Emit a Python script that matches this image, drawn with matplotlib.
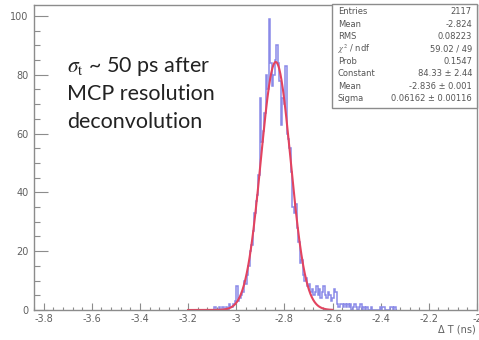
import matplotlib
matplotlib.use('Agg')
import matplotlib.pyplot as plt
import numpy as np
from matplotlib.patches import Rectangle
from matplotlib.ticker import MultipleLocator

# histogram binning (ROOT style, 300 bins) and bin contents
x_min, x_max, n_bins = -3.84, -2.0, 300
first_bin = 120
counts = [
    0, 0, 1, 0, 0, 1, 0, 1, 1, 0,
    1, 0, 2, 1, 1, 2, 3, 8, 3, 4,
    5, 6, 10, 9, 12, 15, 20, 22, 27, 33,
    37, 39, 46, 72, 57, 61, 67, 80, 75, 99,
    84, 76, 80, 85, 90, 84, 78, 63, 72, 70,
    83, 60, 58, 55, 47, 35, 33, 36, 28, 23,
    16, 17, 12, 10, 11, 8, 9, 6, 7, 5,
    6, 8, 5, 7, 4, 6, 8, 5, 4, 6,
    5, 3, 4, 7, 6, 2, 1, 2, 2, 1,
    2, 1, 2, 1, 2, 0, 1, 2, 1, 0,
    1, 2, 0, 1, 0, 1, 0, 0, 1, 0,
    0, 0, 0, 0, 1, 0, 1, 1, 0, 0,
    0, 1, 1, 0, 1, 0,
]

# gaussian fit parameters (from the stats box)
fit_const, fit_mean, fit_sigma = 84.33, -2.836, 0.06162
fit_lo, fit_hi = -3.2, -2.6

stat_labels = ['Entries', 'Mean', 'RMS', r'$\chi^2$ / ndf', 'Prob',
               'Constant', 'Mean', 'Sigma']
stat_values = ['2117', '-2.824', '0.08223', '59.02 / 49', '0.1547',
               '84.33 \u00b1 2.44', '-2.836 \u00b1 0.001', '0.06162 \u00b1 0.00116']

note_lines = [r'$\sigma_{\rm t}$ ~ 50 ps after', 'MCP resolution', 'deconvolution']

plt.rcParams['axes.unicode_minus'] = False
plt.rcParams['mathtext.fontset'] = 'stix'

W, H = 479, 340
fig = plt.figure(figsize=(W / 100, H / 100), dpi=100)
fig.patch.set_facecolor('white')
ax = fig.add_axes([34 / W, 1 - 310 / H, (477 - 34) / W, (310 - 5) / H])

edges = np.linspace(x_min, x_max, n_bins + 1)
sub_edges = edges[first_bin:first_bin + len(counts) + 1]
ax.stairs(counts, sub_edges, color='#8a8ae8', lw=1.1, zorder=2)

xs = np.linspace(fit_lo, fit_hi, 400)
ys = fit_const * np.exp(-0.5 * ((xs - fit_mean) / fit_sigma) ** 2)
ax.plot(xs, ys, color='#e3435f', lw=1.5, zorder=3)

ax.set_xlim(x_min, x_max)
ax.set_ylim(0, 103.7)

gray = '#8c8c8c'
for s in ax.spines.values():
    s.set_color(gray)
    s.set_linewidth(1.0)
    s.set_zorder(4)

ax.xaxis.set_major_locator(MultipleLocator(0.2))
ax.xaxis.set_minor_locator(MultipleLocator(0.04))
ax.yaxis.set_major_locator(MultipleLocator(20))
ax.yaxis.set_minor_locator(MultipleLocator(5))
ax.xaxis.set_major_formatter(plt.FuncFormatter(lambda v, p: ('%.1f' % v).rstrip('0').rstrip('.')))
ax.tick_params(axis='x', which='major', direction='in', length=5, width=0.8,
               color=gray, labelsize=7, labelcolor='#606060', pad=3)
ax.tick_params(axis='x', which='minor', direction='in', length=2.5, width=0.8, color=gray)
ax.tick_params(axis='y', which='major', direction='in', length=10, width=0.8,
               color=gray, labelsize=7, labelcolor='#606060', pad=4)
ax.tick_params(axis='y', which='minor', direction='in', length=4.5, width=0.8, color=gray)

fig.text(476 / W, 1 - 330 / H, '\u0394 T (ns)', ha='right', va='center',
         fontsize=7, color='#606060')

# stats box
box = Rectangle((332 / W, 1 - 108 / H), (477 - 332) / W, (108 - 4) / H,
                transform=fig.transFigure, facecolor='white', edgecolor=gray,
                lw=1.0, zorder=5)
fig.patches.append(box)
for i, (lab, val) in enumerate(zip(stat_labels, stat_values)):
    yy = 1 - (12 + i * 12.4) / H
    fig.text(338 / W, yy, lab, ha='left', va='center', fontsize=6,
             color='#555555', zorder=6)
    fig.text(472 / W, yy, val, ha='right', va='center', fontsize=6,
             color='#555555', zorder=6)

# annotation
for i, line in enumerate(note_lines):
    fig.text(67 / W, 1 - (67 + i * 27.5) / H, line, ha='left', va='center',
             fontsize=15.5, family='Lato', color='#222222')

fig.savefig('out.png', dpi=100)
